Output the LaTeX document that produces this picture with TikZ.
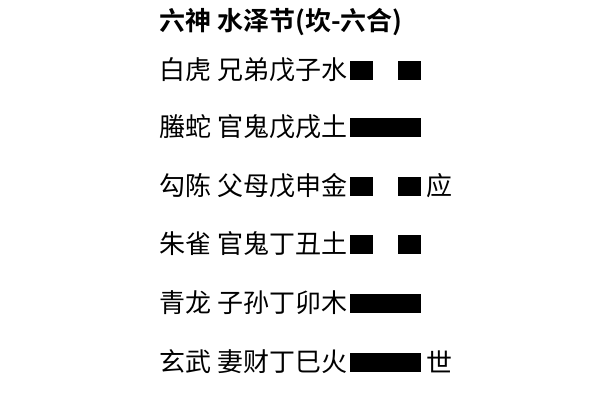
\documentclass[tikz,border=0pt]{standalone}
\usepackage{fontspec}
\newfontfamily\cjk{Noto Sans CJK SC}[BoldFont={Noto Sans CJK SC Bold}]
\usetikzlibrary{positioning}
\tikzset{
	% text of a line
	yaoline/.style={anchor=west,inner sep=0pt,font=\cjk\fontsize{14.8pt}{17pt}\selectfont},
	% bars
	yinbar/.style={fill=black,inner sep=0pt,minimum width=0.46cm,minimum height=0.38cm},
	yangbar/.style={fill=black,inner sep=0pt,minimum width=1.42cm,minimum height=0.38cm},
}
\begin{document}
\begin{tikzpicture}[x=0.02cm,y=-0.02cm]
\useasboundingbox[fill=white] (0,0) rectangle (600,400);
% title
\node[yaoline,font=\cjk\bfseries\fontsize{14.8pt}{17pt}\selectfont] (title) at (159,22) {六神\ 水泽节(坎-六合)};
% the six lines, top to bottom
\node[yaoline] (l6) at (159,70) {白虎\ 兄弟戊子水};
\node[yaoline] (l5) at (159,127) {螣蛇\ 官鬼戊戌土};
\node[yaoline] (l4) at (159,186) {勾陈\ 父母戊申金};
\node[yaoline] (l3) at (159,244) {朱雀\ 官鬼丁丑土};
\node[yaoline] (l2) at (159,303) {青龙\ 子孙丁卯木};
\node[yaoline] (l1) at (159,362) {玄武\ 妻财丁巳火};
% broken and whole bars
\foreach \n/\y in {6/70,4/186,3/244} {
  \node[yinbar] (a\n) at (361.5,\y) {};
  \node[yinbar] (b\n) at (409.5,\y) {};
}
\foreach \n/\y in {5/127,2/303,1/362}
  \node[yangbar] (a\n) at (385.5,\y) {};
\node[yaoline] (ying) at (426,186) {应};
\node[yaoline] (shi) at (426,362) {世};
\end{tikzpicture}
\end{document}
